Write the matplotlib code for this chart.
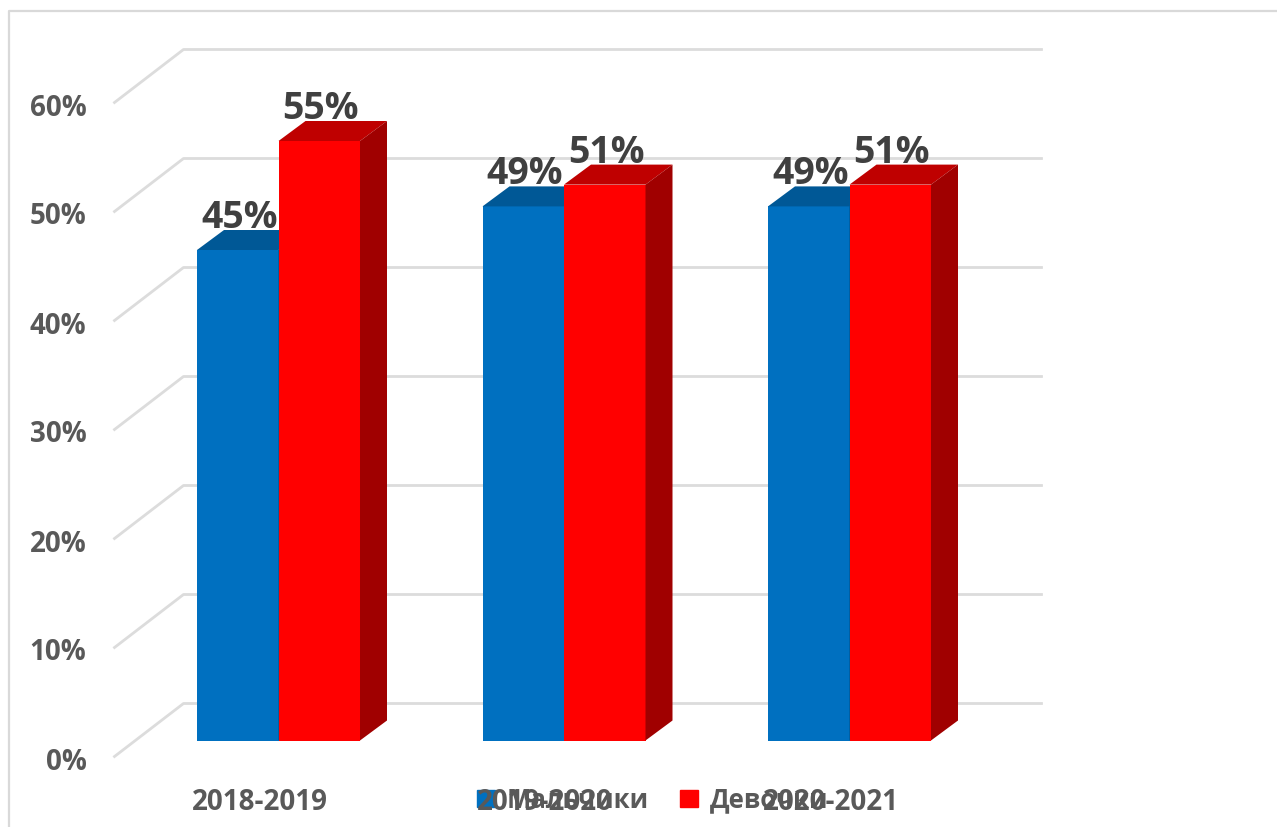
import numpy as np
import matplotlib.pyplot as plt
from matplotlib.patches import Rectangle

years = ["2018-2019", "2019-2020", "2020-2021"]
boys = [45, 49, 49]
girls = [55, 51, 51]
series_names = ["Мальчики", "Девочки"]
y_ticks = [0, 10, 20, 30, 40, 50, 60]

plt.rcParams["font.family"] = ["Open Sans", "DejaVu Sans"]
plt.rcParams["font.weight"] = "bold"

W, H = 1277, 827
# one category = 285.5 px, one percent = 10.9 px, category 0 sits at px 279, 0% at px 740
ux, uy = 285.5, 10.9
fig = plt.figure(figsize=(W / 100, H / 100), dpi=100)
ax = fig.add_axes([0, 0, 1, 1])
ax.set_xlim(-278.5 / ux, (W - 278.5) / ux)
ax.set_ylim((740.5 - H) / uy, 740.5 / uy)
ax.axis("off")

grid_c = "#DCDCDC"
text_c = "#595959"
label_c = "#404040"
bar_w = 81.5 / ux
dep_x, dep_y = 27 / ux, 20 / uy


def bar3d(x, v, face, top, side):
    ax.bar(x, v, bar_w, color=face, lw=0, zorder=3)
    l, r = x - bar_w / 2, x + bar_w / 2
    ax.fill([l, r, r + dep_x, l + dep_x], [v, v, v + dep_y, v + dep_y], color=top, lw=0, zorder=3)
    ax.fill([r, r + dep_x, r + dep_x, r], [0, dep_y, v + dep_y, v], color=side, lw=0, zorder=3)
    ax.text(x + 1.5 / ux, v + 22 / uy, f"{v}%", ha="center", va="baseline", fontsize=27, color=label_c, zorder=5)


# walls and tick labels
wall_front, wall_back, wall_end = (115 - 279) / ux, (184 - 279) / ux, (1042 - 279) / ux
for t in y_ticks:
    y_front, y_back = t - 16 / uy, t + 37 / uy
    ax.plot([wall_front, wall_back, wall_end], [y_front, y_back, y_back], color=grid_c, lw=2, zorder=1)
    ax.text((87 - 279) / ux, y_front - 2 / uy, f"{t}%", ha="right", va="center_baseline", fontsize=20, color=text_c)

xs = np.arange(len(years))
for i in xs:
    bar3d(i - bar_w / 2, boys[i], "#0070C0", "#005896", "#004F87")
    bar3d(i + bar_w / 2, girls[i], "#FF0000", "#BF0000", "#A00000")
    ax.text(i - 19 / ux, (740 - 798) / uy, years[i], ha="center", va="center_baseline", fontsize=20, color=text_c, zorder=6)

# frame of the chart area
ax.plot([1, 0.0072, 0.0072], [0.9867, 0.9867, 0], color="#D9D9D9", lw=1.6, transform=ax.transAxes, zorder=0)

handles = [Rectangle((0, 0), 1, 1, color="#0070C0"), Rectangle((0, 0), 1, 1, color="#FF0000")]
ax.legend(handles, series_names, loc="center", bbox_to_anchor=(652.5 / W, 1 - 800 / H), ncol=2, frameon=False,
          fontsize=18.5, labelcolor=text_c, handlelength=0.7, handleheight=0.62, handletextpad=0.47,
          columnspacing=1.2)

fig.savefig("out.png", dpi=100)
